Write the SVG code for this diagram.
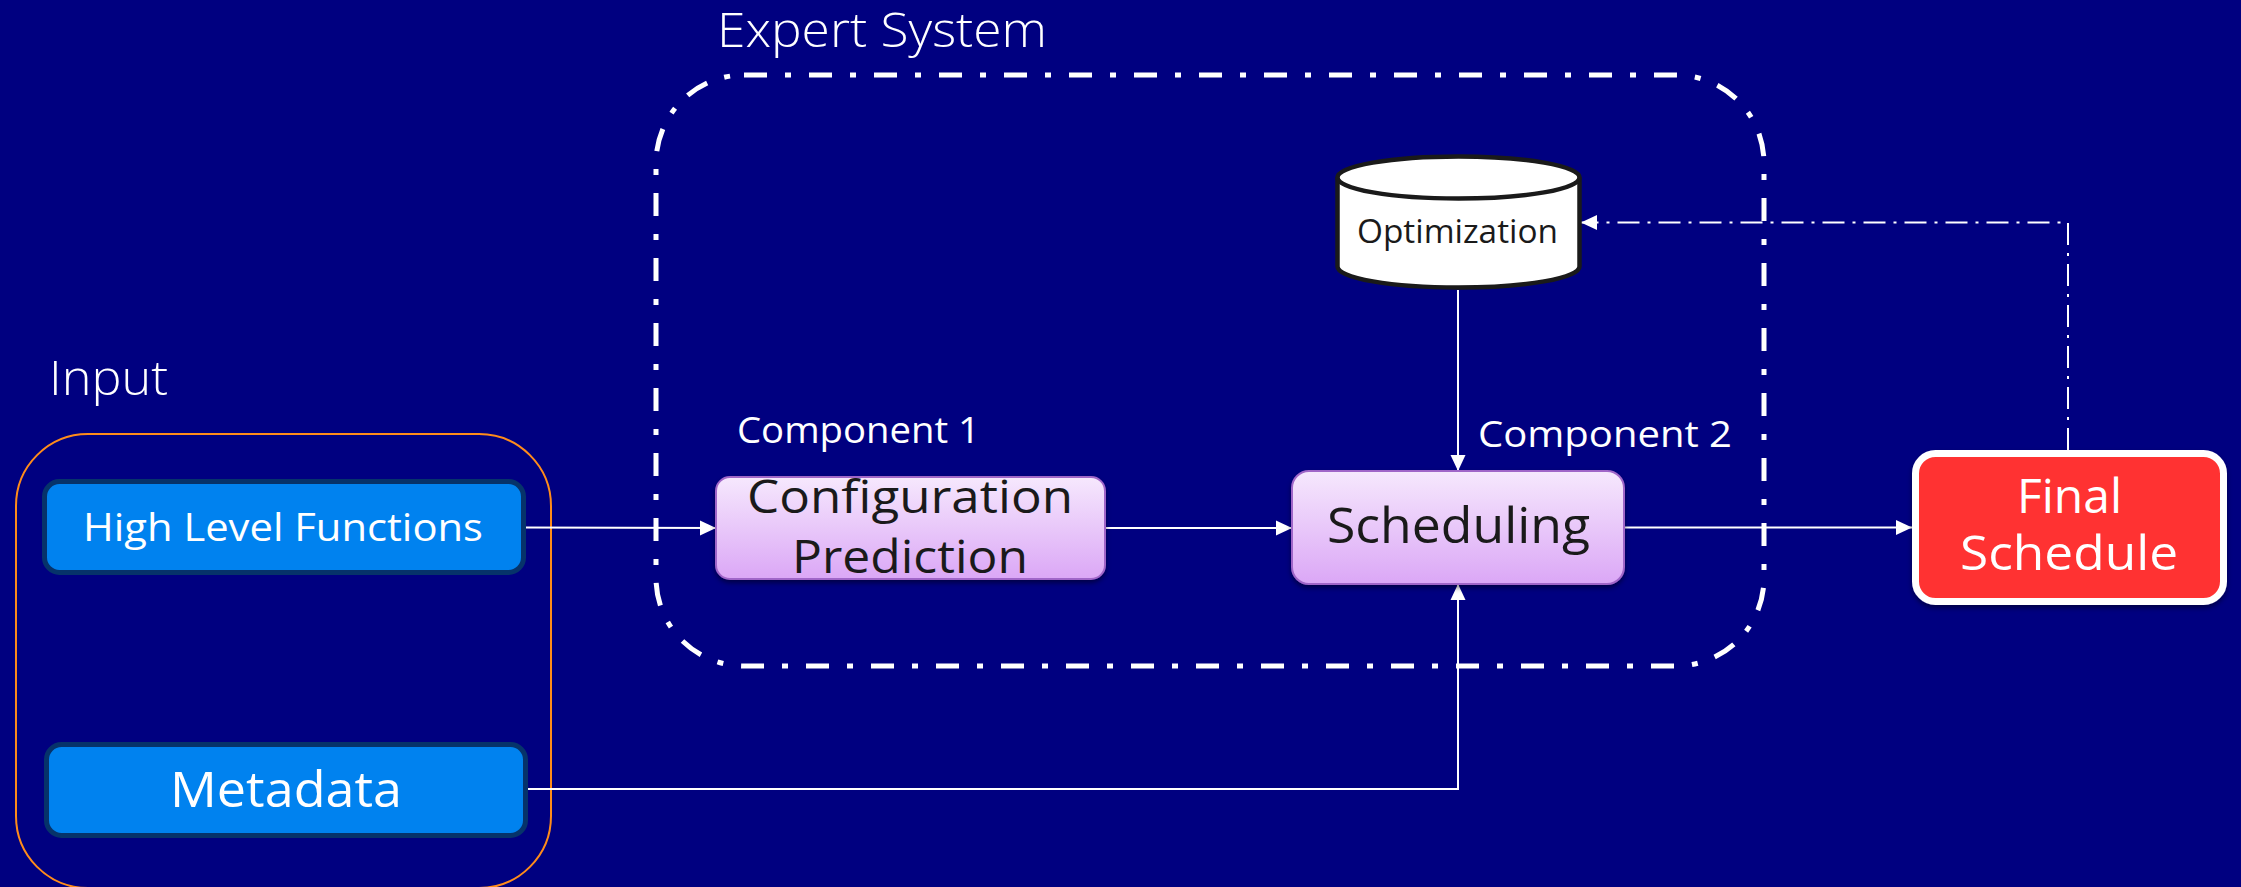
<svg xmlns="http://www.w3.org/2000/svg" width="2241" height="887" viewBox="0 0 2241 887">
  <style>
    .lbl { font-family: "Open Sans", "Noto Sans", "Liberation Sans", sans-serif; font-weight: 300; fill: #ffffff; }
    .dark { font-family: "Open Sans", "Noto Sans", "Liberation Sans", sans-serif; font-weight: 400; fill: #1a1a1a; }
    .wtxt { font-family: "Open Sans", "Noto Sans", "Liberation Sans", sans-serif; font-weight: 400; fill: #ffffff; }
    .inbox { fill: #0082ef; stroke: #06336a; stroke-width: 5; }
    .proc { fill: url(#procFill); stroke: #a066c8; stroke-width: 2; filter: url(#shadow); }
    .edge { fill: none; stroke: #ffffff; stroke-width: 2; }
    .dashdot { stroke-dasharray: 22 8 3 8; }
  </style>
  <defs>
    <linearGradient id="procFill" x1="0" y1="0" x2="0" y2="1">
      <stop offset="0" stop-color="#f6e8fd"/>
      <stop offset="1" stop-color="#dba7f6"/>
    </linearGradient>
    <filter id="shadow" x="-10%" y="-10%" width="120%" height="130%">
      <feDropShadow dx="0" dy="3" stdDeviation="2.5" flood-color="#000000" flood-opacity="0.45"/>
    </filter>
    <marker id="arrow" markerUnits="userSpaceOnUse" viewBox="0 0 16 16" markerWidth="16" markerHeight="16" refX="16" refY="8" orient="auto">
      <path d="M0,0.5 L16,8 L0,15.5 Z" fill="#ffffff" stroke="none"/>
    </marker>
  </defs>

  <!-- background -->
  <rect x="0" y="0" width="2241" height="887" fill="#000080"/>

  <!-- input frame -->
  <g id="input-group">
    <rect x="16" y="434" width="535" height="454" rx="72" ry="72" fill="none" stroke="#ff8c1a" stroke-width="2"/>
    <text class="lbl" x="108.5" y="395" font-size="47" text-anchor="middle" textLength="119" lengthAdjust="spacingAndGlyphs">Input</text>
  </g>

  <!-- expert system frame -->
  <g id="expert-system">
    <rect x="656" y="75" width="1108" height="591" rx="88" ry="88" fill="none" stroke="#ffffff" stroke-width="5" stroke-dasharray="23 18 6 18"/>
    <text class="lbl" x="882" y="47" font-size="47" text-anchor="middle" textLength="330" lengthAdjust="spacingAndGlyphs">Expert System</text>
  </g>

  <!-- connectors -->
  <g id="connectors">
    <path id="e-hlf-config" class="edge" d="M526,527.5 L716,528" marker-end="url(#arrow)"/>
    <path id="e-config-sched" class="edge" d="M1105,528 L1292,528" marker-end="url(#arrow)"/>
    <path id="e-sched-final" class="edge" d="M1624,527.5 L1912,527.5" marker-end="url(#arrow)"/>
    <path id="e-opt-sched" class="edge" d="M1458,290 L1458,471" marker-end="url(#arrow)"/>
    <path id="e-meta-sched" class="edge" d="M528,789 L1458,789 L1458,584" marker-end="url(#arrow)"/>
    <path id="e-final-opt" class="edge dashdot" d="M2068,450 L2068,222.5 L1581,222.5" marker-end="url(#arrow)"/>
  </g>

  <!-- input nodes -->
  <g id="node-hlf">
    <rect class="inbox" x="44.5" y="481.5" width="479" height="91" rx="15" ry="15"/>
    <text class="wtxt" x="283" y="541" font-size="39" text-anchor="middle" textLength="400" lengthAdjust="spacingAndGlyphs">High Level Functions</text>
  </g>
  <g id="node-metadata">
    <rect class="inbox" x="46.5" y="744.5" width="479" height="91" rx="15" ry="15"/>
    <text class="wtxt" x="286" y="807" font-size="50" text-anchor="middle" textLength="232" lengthAdjust="spacingAndGlyphs">Metadata</text>
  </g>

  <!-- component 1 -->
  <g id="node-config">
    <rect class="proc" x="716" y="477" width="389" height="102" rx="14" ry="14"/>
    <text class="dark" x="910" y="513" font-size="45" text-anchor="middle" textLength="326" lengthAdjust="spacingAndGlyphs">Configuration</text>
    <text class="dark" x="910" y="573" font-size="45" text-anchor="middle" textLength="236" lengthAdjust="spacingAndGlyphs">Prediction</text>
  </g>
  <text id="label-c1" class="wtxt" x="858.5" y="443" font-size="37" text-anchor="middle" textLength="243" lengthAdjust="spacingAndGlyphs">Component 1</text>

  <!-- component 2 -->
  <g id="node-scheduling">
    <rect class="proc" x="1292" y="471" width="332" height="113" rx="17" ry="17"/>
    <text class="dark" x="1458.5" y="543" font-size="50" text-anchor="middle" textLength="263" lengthAdjust="spacingAndGlyphs">Scheduling</text>
  </g>
  <text id="label-c2" class="wtxt" x="1605" y="447" font-size="37" text-anchor="middle" textLength="254" lengthAdjust="spacingAndGlyphs">Component 2</text>

  <!-- optimization store -->
  <g id="node-optimization">
    <path d="M1337.5,177.5 A121,21 0 0 1 1579.5,177.5 L1579.5,266.5 A121,21 0 0 1 1337.5,266.5 Z" fill="#ffffff" stroke="#1a1a1a" stroke-width="4.5"/>
    <path d="M1337.5,177.5 A121,21 0 0 0 1579.5,177.5" fill="none" stroke="#1a1a1a" stroke-width="4.5"/>
    <text class="dark" x="1457.5" y="243" font-size="32" text-anchor="middle" textLength="201" lengthAdjust="spacingAndGlyphs">Optimization</text>
  </g>

  <!-- output -->
  <g id="node-final">
    <rect x="1915.5" y="453.5" width="308" height="148" rx="20" ry="20" fill="#ff3333" stroke="#ffffff" stroke-width="7" filter="url(#shadow)"/>
    <text class="wtxt" x="2069.5" y="513" font-size="47" text-anchor="middle" textLength="105" lengthAdjust="spacingAndGlyphs">Final</text>
    <text class="wtxt" x="2069" y="570" font-size="47" text-anchor="middle" textLength="218" lengthAdjust="spacingAndGlyphs">Schedule</text>
  </g>
</svg>
